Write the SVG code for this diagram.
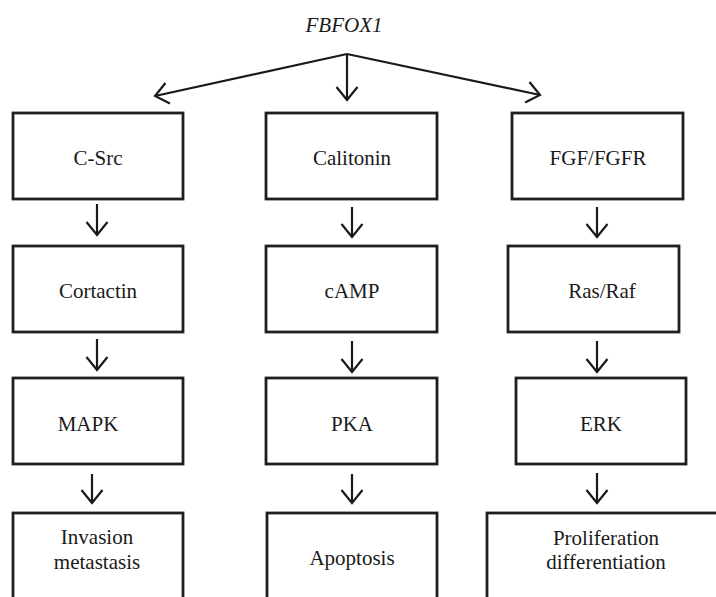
<svg xmlns="http://www.w3.org/2000/svg" width="716" height="597" viewBox="0 0 716 597">
<defs>
<marker id="ah" markerUnits="userSpaceOnUse" markerWidth="30" markerHeight="30" viewBox="-15 -15 30 30" refX="0" refY="0" orient="auto" overflow="visible">
<path d="M-13,-10.5 L0,0 L-13,10.5" fill="none" stroke="#1a1a1a" stroke-width="2.2" stroke-linejoin="miter"/>
</marker>
<style>
.box{fill:#fff;stroke:#1f1f1f;stroke-width:2.8}
.t{font-family:"Liberation Serif","Times New Roman",serif;font-size:21px;fill:#1a1a1a;text-anchor:middle}
.it{font-style:italic}
.c{fill:none;stroke:#1a1a1a;stroke-width:2.2;marker-end:url(#ah)}
</style>
</defs>
<rect width="716" height="597" fill="#fff"/>
<g id="title"><text class="t it" x="344" y="32">FBFOX1</text></g>
<g id="connectors">
<path class="c" d="M347,54 L155,96"/>
<path class="c" d="M347,54 L347,100"/>
<path class="c" d="M347,54 L540,95"/>
<path class="c" d="M97,204 L97,235"/>
<path class="c" d="M352,207 L352,237"/>
<path class="c" d="M597,207 L597,237"/>
<path class="c" d="M97,339 L97,370"/>
<path class="c" d="M352,341 L352,372"/>
<path class="c" d="M597,341 L597,372"/>
<path class="c" d="M92,474 L92,503"/>
<path class="c" d="M352,474 L352,503"/>
<path class="c" d="M597,473 L597,503"/>
</g>
<g id="csrc"><rect class="box" x="13" y="113" width="170" height="86"/><text class="t" x="98" y="165">C-Src</text></g>
<g id="calitonin"><rect class="box" x="266" y="113" width="171" height="86"/><text class="t" x="352" y="165">Calitonin</text></g>
<g id="fgf"><rect class="box" x="512" y="113" width="171" height="86"/><text class="t" x="598" y="165">FGF/FGFR</text></g>
<g id="cortactin"><rect class="box" x="13" y="246" width="170" height="86"/><text class="t" x="98" y="298">Cortactin</text></g>
<g id="camp"><rect class="box" x="266" y="246" width="171" height="86"/><text class="t" x="352" y="298">cAMP</text></g>
<g id="rasraf"><rect class="box" x="508" y="246" width="171" height="86"/><text class="t" x="602" y="298">Ras/Raf</text></g>
<g id="mapk"><rect class="box" x="13" y="378" width="170" height="86"/><text class="t" x="88" y="431">MAPK</text></g>
<g id="pka"><rect class="box" x="266" y="378" width="171" height="86"/><text class="t" x="352" y="431">PKA</text></g>
<g id="erk"><rect class="box" x="516" y="378" width="170" height="86"/><text class="t" x="601" y="431">ERK</text></g>
<g id="invasion"><rect class="box" x="13" y="513" width="170" height="100"/><text class="t" x="97" y="544">Invasion</text><text class="t" x="97" y="569">metastasis</text></g>
<g id="apoptosis"><rect class="box" x="267" y="513" width="170" height="100"/><text class="t" x="352" y="565">Apoptosis</text></g>
<g id="prolif"><rect class="box" x="487" y="513" width="240" height="100"/><text class="t" x="606" y="545">Proliferation</text><text class="t" x="606" y="569">differentiation</text></g>
</svg>
